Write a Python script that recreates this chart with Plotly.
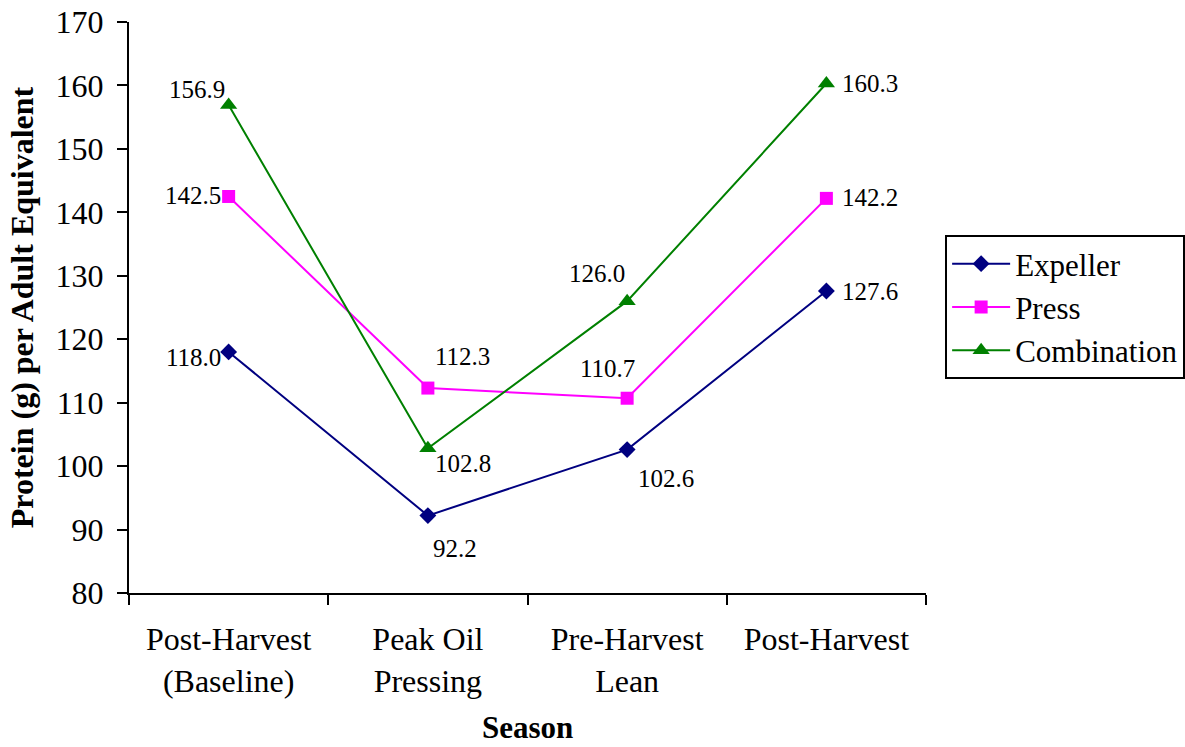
import plotly.graph_objects as go

seasons = ["Post-Harvest<br>(Baseline)", "Peak Oil<br>Pressing", "Pre-Harvest<br>Lean", "Post-Harvest"]
expeller = [118.0, 92.2, 102.6, 127.6]
press = [142.5, 112.3, 110.7, 142.2]
combination = [156.9, 102.8, 126.0, 160.3]

series = [
    ("Expeller", expeller, "#000080", "diamond", 13),
    ("Press", press, "#FF00FF", "square", 13),
    ("Combination", combination, "#008000", "triangle-up", 15),
]

FONT = "Liberation Serif, Times New Roman, serif"

fig = go.Figure()
for name, vals, color, sym, size in series:
    fig.add_trace(go.Scatter(
        x=seasons, y=vals, name=name, mode="lines+markers",
        line=dict(color=color, width=2),
        marker=dict(symbol=sym, size=size, color=color),
    ))

# value labels: (series values, index, xanchor, xshift, yshift)
label_pos = [
    (expeller, 0, "right", -6, -6),
    (expeller, 1, "center", 27, -33),
    (expeller, 2, "center", 39, -29),
    (expeller, 3, "left", 14, 0),
    (press, 0, "right", -6, 1),
    (press, 1, "center", 35, 32),
    (press, 2, "center", -20, 30),
    (press, 3, "left", 14, 1),
    (combination, 0, "right", -2, 16),
    (combination, 1, "center", 35, -15),
    (combination, 2, "center", -30, 28),
    (combination, 3, "left", 14, 0),
]
for vals, i, xa, xs, ys in label_pos:
    fig.add_annotation(
        x=seasons[i], y=vals[i], text=f"{vals[i]:.1f}", showarrow=False,
        xanchor=xa, yanchor="middle", xshift=xs, yshift=ys,
        font=dict(family=FONT, size=25, color="black"),
    )

# x-axis title placed below the two-line category labels
fig.add_annotation(
    xref="paper", yref="paper", x=0.5, y=-0.2697, text="<b>Season</b>",
    showarrow=False, xanchor="center", yanchor="bottom",
    font=dict(family=FONT, size=31, color="black"),
)

fig.update_layout(
    width=1185, height=747,
    margin=dict(l=129, r=259, t=22, b=154, autoexpand=False),
    paper_bgcolor="white", plot_bgcolor="white",
    font=dict(family=FONT, color="black"),
    legend=dict(
        x=1.024, y=0.627, xanchor="left", yanchor="top",
        bordercolor="black", borderwidth=2,
        font=dict(family=FONT, size=31, color="black"),
        itemwidth=58,
    ),
    xaxis=dict(
        type="category", range=[-0.5, 3.5], automargin=False,
        showline=True, linewidth=2, linecolor="black",
        ticks="outside", ticklen=10, tickwidth=2, tickcolor="black",
        tickson="boundaries", showgrid=False,
        tickfont=dict(family=FONT, size=32),
        ticklabelstandoff=17,
    ),
    yaxis=dict(
        range=[80, 170], dtick=10, tick0=80, automargin=False,
        showline=True, linewidth=2, linecolor="black",
        ticks="outside", ticklen=10, tickwidth=2, tickcolor="black",
        showgrid=False, zeroline=False,
        tickfont=dict(family=FONT, size=32),
        ticklabelstandoff=7,
        title=dict(text="<b>Protein (g) per Adult Equivalent</b>", font=dict(family=FONT, size=32), standoff=12),
    ),
)

fig.write_html("out.html")
